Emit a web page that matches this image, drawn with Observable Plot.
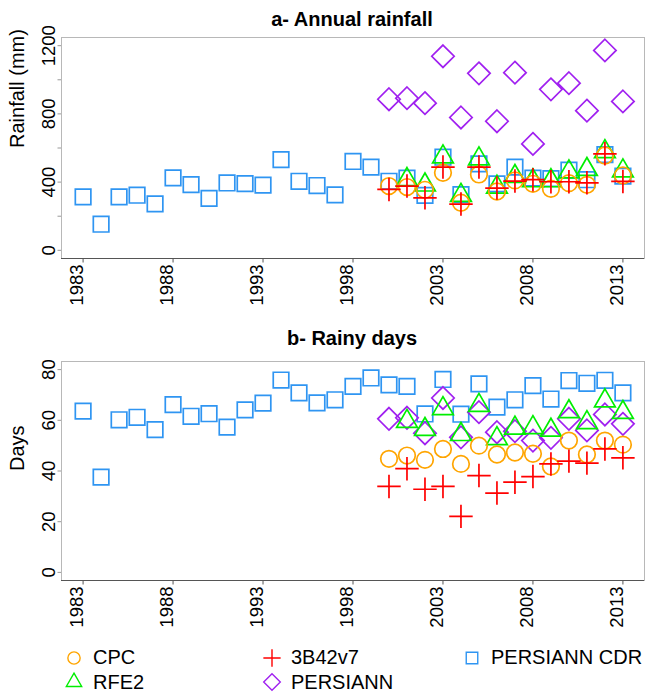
<!DOCTYPE html>
<html>
<head>
<meta charset="utf-8">
<script src="https://cdn.jsdelivr.net/npm/d3@7"></script>
<script src="https://cdn.jsdelivr.net/npm/@observablehq/plot@0.6"></script>
<style>
  html, body { margin: 0; padding: 0; background: #fff; }
  #root { position: relative; width: 649px; height: 694px; font-family: "Liberation Sans", Arial, Helvetica, sans-serif; color: #000; }
  .title { position: absolute; left: 152px; width: 400px; text-align: center; font-weight: bold; font-size: 20px; line-height: 20px; }
  .panel { position: absolute; left: 0; }
  .leg { position: absolute; font-size: 20px; line-height: 20px; white-space: nowrap; }
  .sym { position: absolute; }
</style>
</head>
<body>
<div id="root">
  <div class="title" style="top:9px">a- Annual rainfall</div>
  <div class="panel" id="pa" style="top:30px"></div>
  <div class="title" style="top:328px">b- Rainy days</div>
  <div class="panel" id="pb" style="top:354px"></div>
</div>
<script>
// ---- data ----
const yearsAll = [1983,1984,1985,1986,1987,1988,1989,1990,1991,1992,1993,1994,1995,1996,1997,1998,1999,2000,2001,2002,2003,2004,2005,2006,2007,2008,2009,2010,2011,2012,2013];
const yearsSat = [2000,2001,2002,2003,2004,2005,2006,2007,2008,2009,2010,2011,2012,2013];
const yearsRfe = [2001,2002,2003,2004,2005,2006,2007,2008,2009,2010,2011,2012,2013];

// a- Annual rainfall (mm)
const cdrRain  = [313,153,313,323,272,425,385,305,395,391,382,532,405,380,325,521,488,405,423,322,546,326,507,390,488,423,420,470,414,561,435];
const persRain = [886,892,863,1138,779,1038,757,1042,624,944,980,819,1172,873];
const cpcRain  = [377,371,355,455,279,445,345,410,390,361,394,384,556,439];
const rfeRain  = [415,383,548,322,536,371,433,408,408,460,474,579,466];
const trmmRain = [357,377,308,488,271,488,365,406,414,402,402,396,566,404];

// b- Rainy days
const cdrDays  = [63.6,37.6,60.2,61.2,56.3,66.2,61.6,62.6,57.3,64.1,66.8,75.9,70.8,66.9,68.1,73.4,76.7,74.0,73.4,62.5,76.1,62.4,74.4,65.2,68.1,73.7,68.4,75.7,74.6,75.8,70.8];
const persDays = [60.6,61.0,54.9,68.8,53.3,63.2,55.3,55.7,52.0,53.1,60.6,56.0,62.3,58.6];
const cpcDays  = [44.8,46.1,44.4,48.7,42.8,50.0,46.5,47.3,46.8,41.8,52.0,46.5,52.0,50.4];
const rfeDays  = [59.6,56.4,64.6,54.4,65.9,52.8,56.9,57.1,56.1,63.4,59.1,67.7,63.1];
const trmmDays = [33.9,40.9,32.8,33.9,22.1,38.2,31.3,35.6,37.8,42.8,43.9,43.1,48.7,45.2];

const xTicks = [1983,1988,1993,1998,2003,2008,2013];
const rainTicks = [0,200,400,600,800,1000,1200];
const rainLabels = [0,400,800,1200];
const dayTicks = [0,20,40,60,80];
const dayLabels = [0,20,40,60,80];

const seriesNames = ["CPC","RFE2","3B42v7","PERSIANN","PERSIANN CDR"];
const colors = {"CPC":"#FFA500","RFE2":"#00EE00","3B42v7":"#FF0000","PERSIANN":"#A020F0","PERSIANN CDR":"#2F95F2"};
const symbols = {"CPC":"circle","RFE2":"triangle2","3B42v7":"plus","PERSIANN":"diamond2","PERSIANN CDR":"square2"};
const radii = {"CPC":8.3,"RFE2":9.9,"3B42v7":7.6,"PERSIANN":10.1,"PERSIANN CDR":9.9};

const FONT = '"Liberation Sans", Arial, Helvetica, sans-serif';

function rows(years, vals, name) {
  return years.map((y, i) => ({year: y, value: vals[i], series: name}));
}

function panel(el, s, yDomain, yTicks, yLabels, yLabel, height) {
  const dots = ["PERSIANN CDR","PERSIANN","RFE2","CPC","3B42v7"].map(name =>
    Plot.dot(s[name], {x: "year", y: "value", symbol: () => symbols[name], r: radii[name],
      stroke: colors[name], fill: "none", strokeWidth: 1.7})
  );
  const chart = Plot.plot({
    width: 649, height,
    marginLeft: 61, marginRight: 5, marginTop: 7, marginBottom: 52,
    x: {domain: [1981.8, 2014.2]},
    y: {domain: yDomain},
    symbol: {type: "identity"},
    style: {fontFamily: FONT, background: "transparent", overflow: "visible", color: "#000"},
    marks: [
      Plot.frame({stroke: "#b8b8b8", strokeWidth: 1}),
      Plot.ruleY([yDomain[0]], {stroke: "#555", strokeWidth: 1.2}),
      Plot.axisX({ticks: xTicks, tickSize: 4.5, tickFormat: () => "", stroke: "#555", label: null}),
      Plot.text(xTicks, {x: d => d, text: d => String(d), frameAnchor: "bottom", dy: 6, rotate: -90,
        textAnchor: "end", fontSize: 18.5, fill: "#000"}),
      Plot.axisY({ticks: yTicks, tickSize: 3.5, tickFormat: () => "", stroke: "#999", label: null}),
      Plot.text(yLabels, {y: d => d, text: d => String(d), frameAnchor: "left", dx: -12, rotate: -90,
        textAnchor: "middle", fontSize: 18.5, fill: "#000"}),
      Plot.text([yLabel], {text: d => d, frameAnchor: "left", dx: -44, rotate: -90, fontSize: 20, fill: "#000"}),
      ...dots
    ]
  });
  el.appendChild(chart);
}

panel(document.getElementById("pa"), {
  "PERSIANN CDR": rows(yearsAll, cdrRain, "PERSIANN CDR"),
  "PERSIANN": rows(yearsSat, persRain, "PERSIANN"),
  "RFE2": rows(yearsRfe, rfeRain, "RFE2"),
  "CPC": rows(yearsSat, cpcRain, "CPC"),
  "3B42v7": rows(yearsSat, trmmRain, "3B42v7")
}, [-48, 1248], rainTicks, rainLabels, "Rainfall (mm)", 280);

panel(document.getElementById("pb"), {
  "PERSIANN CDR": rows(yearsAll, cdrDays, "PERSIANN CDR"),
  "PERSIANN": rows(yearsSat, persDays, "PERSIANN"),
  "RFE2": rows(yearsRfe, rfeDays, "RFE2"),
  "CPC": rows(yearsSat, cpcDays, "CPC"),
  "3B42v7": rows(yearsSat, trmmDays, "3B42v7")
}, [-3.2, 83.2], dayTicks, dayLabels, "Days", 278);

// ---- legend (column-major, 3 columns x 2 rows) ----
const legCols = [74, 272, 472];
const legRows = [657.5, 682];
const d3sym = {"circle": d3.symbolCircle, "triangle2": d3.symbolTriangle2, "plus": d3.symbolPlus, "diamond2": d3.symbolDiamond2, "square2": d3.symbolSquare2};
const root = document.getElementById("root");
seriesNames.forEach((name, i) => {
  const col = Math.floor(i / 2), row = i % 2;
  const cx = legCols[col], cy = legRows[row];
  const r = radii[name] * 0.74;
  const svg = d3.create("svg").attr("class", "sym").attr("width", 24).attr("height", 24)
    .style("left", (cx - 12) + "px").style("top", (cy - 12) + "px");
  svg.append("path").attr("transform", "translate(12,12)")
    .attr("d", d3.symbol(d3sym[symbols[name]], r * r * Math.PI)())
    .attr("fill", "none").attr("stroke", colors[name]).attr("stroke-width", 1.4);
  root.appendChild(svg.node());
  const t = document.createElement("div");
  t.className = "leg";
  t.textContent = name;
  t.style.left = (cx + 19) + "px";
  t.style.top = (cy - 10.5) + "px";
  root.appendChild(t);
});
</script>
</body>
</html>
